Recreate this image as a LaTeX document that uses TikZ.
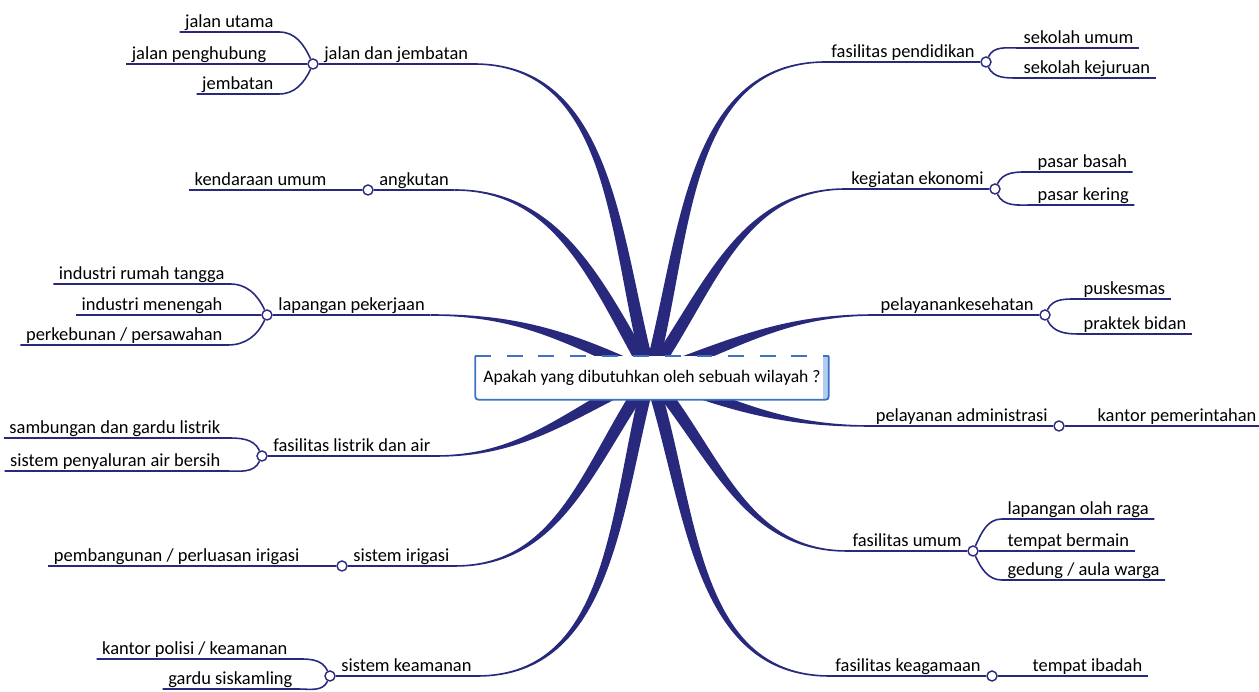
\documentclass[tikz,border=0pt]{standalone}
\usepackage{fontspec}
\setmainfont{Carlito}
\usetikzlibrary{positioning}
\usetikzlibrary{calc}
\usetikzlibrary{backgrounds}
\definecolor{mapblue}{RGB}{40,40,125}
\definecolor{boxblue}{RGB}{60,115,195}
\definecolor{boxlight}{RGB}{175,205,238}
\tikzset{%
  limbfill/.style = {fill=mapblue,draw=mapblue,line width=0.9pt},
  twig/.style = {draw=mapblue,line width=0.9pt},
  knot/.style = {circle,draw=mapblue,fill=white,line width=0.8pt,
        inner sep=0pt,minimum size=0.2cm},
  topic/.style = {inner xsep=3pt,inner ysep=0.3pt,text height=7.5pt,
        text depth=2.2pt,font=\fontsize{10.5}{12}\selectfont},
  leaf/.style = {topic},
  askbox/.style = {fill=white,inner sep=1pt,minimum width=7.06cm,
        minimum height=0.86cm,font=\fontsize{10}{12}\selectfont},
  frame/.style = {draw=boxblue,line width=1pt}
}
\newcommand{\limb}[3]{%
  \filldraw[limbfill] (#1) to[out=#3,in=#2] ($(hub)+(#2+90:5.5)$)
    -- ($(hub)+(#2-90:5.5)$) to[out=#2,in=#3] (#1);}

\begin{document}
\begin{tikzpicture}[x=0.02cm,y=0.02cm]
   \useasboundingbox (0,0) rectangle (1259,692);
   \coordinate (hub) at (650,317);
   \node[askbox] (ask) at (652,314) {Apakah yang dibutuhkan oleh sebuah wilayah ?};
   \fill[boxlight] ([xshift=-3.5pt]ask.north east) rectangle (ask.south east);
   \draw[frame,rounded corners=2pt] (ask.north west) -- (ask.south west)
        -- (ask.south east) -- (ask.north east);
   \draw[frame,dash pattern=on 9pt off 9pt] (ask.north west) -- (ask.north east);

   \node[knot] (k-jalan) at (313,628) {};
   \node[topic] (t-jalan) [above right=0pt and 0pt of k-jalan.east] {jalan dan jembatan};
   \node[leaf,anchor=south east] (l-utama) at (279,660) {jalan utama};
   \node[leaf,anchor=south east] (l-hubung) at (272,628) {jalan penghubung};
   \node[leaf,anchor=south east] (l-jembatan) at (279,598) {jembatan};

   \node[knot] (k-angkut) at (368,502) {};
   \node[topic] (t-angkut) [above right=0pt and 0pt of k-angkut.east] {angkutan};
   \node[leaf,anchor=south east] (l-kendaraan) at (332,502) {kendaraan umum};

   \node[knot] (k-kerja) at (267,377) {};
   \node[topic] (t-kerja) [above right=0pt and 0pt of k-kerja.east] {lapangan pekerjaan};
   \node[leaf,anchor=south east] (l-rumah) at (230,408) {industri rumah tangga};
   \node[leaf,anchor=south east] (l-menengah) at (228,377) {industri menengah};
   \node[leaf,anchor=south east] (l-kebun) at (228,347) {perkebunan / persawahan};

   \node[knot] (k-listrik) at (262,236) {};
   \node[topic] (t-listrik) [above right=0pt and 0pt of k-listrik.east] {fasilitas listrik dan air};
   \node[leaf,anchor=south east] (l-gardu) at (226,254) {sambungan dan gardu listrik};
   \node[leaf,anchor=south east] (l-air) at (226,221) {sistem penyaluran air bersih};

   \node[knot] (k-irigasi) at (342,126) {};
   \node[topic] (t-irigasi) [above right=0pt and 0pt of k-irigasi.east] {sistem irigasi};
   \node[leaf,anchor=south east] (l-perluasan) at (305,126) {pembangunan / perluasan irigasi};

   \node[knot] (k-aman) at (330,16) {};
   \node[topic] (t-aman) [above right=0pt and 0pt of k-aman.east] {sistem keamanan};
   \node[leaf,anchor=south east] (l-polisi) at (293,33) {kantor polisi / keamanan};
   \node[leaf,anchor=south east] (l-ronda) at (298,3) {gardu siskamling};

   \node[knot] (k-didik) at (986,630) {};
   \node[topic] (t-didik) [above left=0pt and 0pt of k-didik.west] {fasilitas pendidikan};
   \node[leaf,anchor=south west] (l-umum) at (1018,644) {sekolah umum};
   \node[leaf,anchor=south west] (l-kejuruan) at (1018,614) {sekolah kejuruan};

   \node[knot] (k-ekonomi) at (995,503) {};
   \node[topic] (t-ekonomi) [above left=0pt and 0pt of k-ekonomi.west] {kegiatan ekonomi};
   \node[leaf,anchor=south west] (l-basah) at (1032,520) {pasar basah};
   \node[leaf,anchor=south west] (l-kering) at (1032,487) {pasar kering};

   \node[knot] (k-sehat) at (1045,377) {};
   \node[topic] (t-sehat) [above left=0pt and 0pt of k-sehat.west] {pelayanankesehatan};
   \node[leaf,anchor=south west] (l-puskesmas) at (1078,393) {puskesmas};
   \node[leaf,anchor=south west] (l-bidan) at (1078,358) {praktek bidan};

   \node[knot] (k-admin) at (1059,266) {};
   \node[topic] (t-admin) [above left=0pt and 0pt of k-admin.west] {pelayanan administrasi};
   \node[leaf,anchor=south west] (l-kantor) at (1092,266) {kantor pemerintahan};

   \node[knot] (k-umum) at (973,141) {};
   \node[topic] (t-umum) [above left=0pt and 0pt of k-umum.west] {fasilitas umum};
   \node[leaf,anchor=south west] (l-olahraga) at (1002,173) {lapangan olah raga};
   \node[leaf,anchor=south west] (l-main) at (1002,141) {tempat bermain};
   \node[leaf,anchor=south west] (l-aula) at (1002,112) {gedung / aula warga};

   \node[knot] (k-agama) at (992,16) {};
   \node[topic] (t-agama) [above left=0pt and 0pt of k-agama.west] {fasilitas keagamaan};
   \node[leaf,anchor=south west] (l-ibadah) at (1027,16) {tempat ibadah};

   \begin{pgfonlayer}{background}
   \limb{t-jalan.south east}{105}{0}
   \limb{t-angkut.south east}{120}{0}
   \limb{t-kerja.south east}{155}{0}
   \limb{t-listrik.south east}{205}{0}
   \limb{t-irigasi.south east}{235}{0}
   \limb{t-aman.south east}{255}{0}
   \limb{t-didik.south west}{75}{180}
   \limb{t-ekonomi.south west}{55}{180}
   \limb{t-sehat.south west}{20}{180}
   \limb{t-admin.south west}{-20}{180}
   \limb{t-umum.south west}{-50}{180}
   \limb{t-agama.south west}{-72}{180}

   \draw[twig] (k-jalan) -- (t-jalan.south east);
   \draw[twig] (k-jalan) to[out=115,in=0] (l-utama.south east) -- (l-utama.south west);
   \draw[twig] (k-jalan) -- (l-hubung.south east) -- (l-hubung.south west);
   \draw[twig] (k-jalan) to[out=-115,in=0] (l-jembatan.south east) -- (l-jembatan.south west);

   \draw[twig] (k-angkut) -- (t-angkut.south east);
   \draw[twig] (k-angkut) -- (l-kendaraan.south east) -- (l-kendaraan.south west);

   \draw[twig] (k-kerja) -- (t-kerja.south east);
   \draw[twig] (k-kerja) to[out=115,in=0] (l-rumah.south east) -- (l-rumah.south west);
   \draw[twig] (k-kerja) -- (l-menengah.south east) -- (l-menengah.south west);
   \draw[twig] (k-kerja) to[out=-115,in=0] (l-kebun.south east) -- (l-kebun.south west);

   \draw[twig] (k-listrik) -- (t-listrik.south east);
   \draw[twig] (k-listrik) to[out=115,in=0] (l-gardu.south east) -- (l-gardu.south west);
   \draw[twig] (k-listrik) to[out=-115,in=0] (l-air.south east) -- (l-air.south west);

   \draw[twig] (k-irigasi) -- (t-irigasi.south east);
   \draw[twig] (k-irigasi) -- (l-perluasan.south east) -- (l-perluasan.south west);

   \draw[twig] (k-aman) -- (t-aman.south east);
   \draw[twig] (k-aman) to[out=115,in=0] (l-polisi.south east) -- (l-polisi.south west);
   \draw[twig] (k-aman) to[out=-115,in=0] (l-ronda.south east) -- (l-ronda.south west);

   \draw[twig] (k-didik) -- (t-didik.south west);
   \draw[twig] (k-didik) to[out=65,in=180] (l-umum.south west) -- (l-umum.south east);
   \draw[twig] (k-didik) to[out=-65,in=180] (l-kejuruan.south west) -- (l-kejuruan.south east);

   \draw[twig] (k-ekonomi) -- (t-ekonomi.south west);
   \draw[twig] (k-ekonomi) to[out=65,in=180] (l-basah.south west) -- (l-basah.south east);
   \draw[twig] (k-ekonomi) to[out=-65,in=180] (l-kering.south west) -- (l-kering.south east);

   \draw[twig] (k-sehat) -- (t-sehat.south west);
   \draw[twig] (k-sehat) to[out=65,in=180] (l-puskesmas.south west) -- (l-puskesmas.south east);
   \draw[twig] (k-sehat) to[out=-65,in=180] (l-bidan.south west) -- (l-bidan.south east);

   \draw[twig] (k-admin) -- (t-admin.south west);
   \draw[twig] (k-admin) -- (l-kantor.south west) -- (l-kantor.south east);

   \draw[twig] (k-umum) -- (t-umum.south west);
   \draw[twig] (k-umum) to[out=65,in=180] (l-olahraga.south west) -- (l-olahraga.south east);
   \draw[twig] (k-umum) -- (l-main.south west) -- (l-main.south east);
   \draw[twig] (k-umum) to[out=-65,in=180] (l-aula.south west) -- (l-aula.south east);

   \draw[twig] (k-agama) -- (t-agama.south west);
   \draw[twig] (k-agama) -- (l-ibadah.south west) -- (l-ibadah.south east);
   \end{pgfonlayer}
\end{tikzpicture}
\end{document}
